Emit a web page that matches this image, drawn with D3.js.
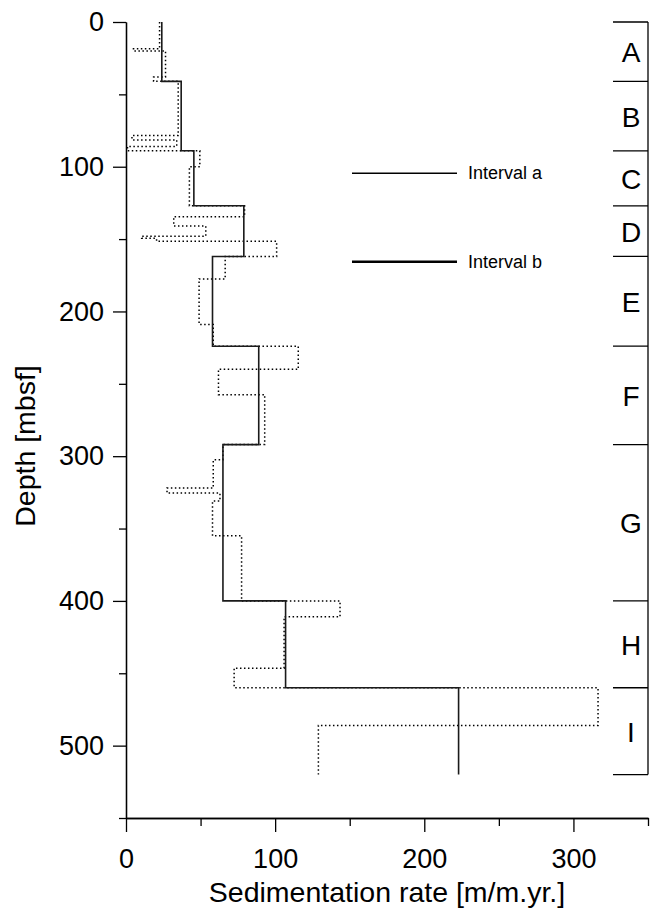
<!DOCTYPE html>
<html>
<head>
<meta charset="utf-8">
<script src="https://cdn.jsdelivr.net/npm/d3@7"></script>
<style>
  body { margin: 0; background: #fff; }
  svg { display: block; font-family: "Liberation Sans", Arial, sans-serif; }
</style>
</head>
<body>
<svg width="653" height="908"></svg>
<script>
// zones (depth boundaries in mbsf)
const zoneNames = ["A", "B", "C", "D", "E", "F", "G", "H", "I"];
const zoneBounds = [0, 41, 89, 127, 162, 224, 292, 400, 460, 520];

// interval a: one rate per zone
const rateA = [24, 37, 45.5, 79, 58, 89, 65, 107, 223];

// interval b: finer steps
const boundsB = [0, 18.5, 20, 38, 41, 78.5, 81.5, 86, 89, 100, 127, 134.5, 141, 148, 149.5, 151.5,
  162, 177.5, 209, 224, 240, 257.5, 292, 302.5, 322, 325.5, 331, 355, 400, 411, 446.5, 460, 486, 520];
const rateB = [22.5, 5, 26.5, 18.5, 35, 4, 34, 1, 49.5, 42.5, 79.5, 32, 53.5, 10.5, 20.5, 101,
  66.5, 49, 58.5, 115.5, 62, 93, 65, 58.5, 27.5, 63, 58, 77.5, 143.5, 106, 72.5, 316.5, 129];

const xMajor = [0, 100, 200, 300];
const xMinor = [50, 150, 250, 350];
const yMajor = [0, 100, 200, 300, 400, 500];
const yMinor = [50, 150, 250, 350, 450, 550];

const svg = d3.select("svg");
const x = d3.scaleLinear([0, 350], [126, 648]);
const y = d3.scaleLinear([0, 550], [22, 818]);

function steps(bounds, rates) {
  const pts = [];
  rates.forEach((r, i) => { pts.push([r, bounds[i]]); pts.push([r, bounds[i + 1]]); });
  return pts;
}
const line = d3.line().x(d => x(d[0])).y(d => y(d[1]));

// axes
function styleAxis(g) {
  g.attr("font-family", null).attr("font-size", null);
  g.selectAll("path, line").attr("stroke", "#000").attr("stroke-width", 1.3);
  g.selectAll("text").attr("fill", "#000").style("font-size", "27px");
}
svg.append("g").attr("transform", "translate(126,0)")
  .call(d3.axisLeft(y).tickValues(yMajor).tickSize(13).tickPadding(9).tickSizeOuter(0))
  .call(styleAxis);
svg.append("g").attr("transform", "translate(126,0)")
  .call(d3.axisLeft(y).tickValues(yMinor).tickSize(7).tickFormat("").tickSizeOuter(0))
  .call(styleAxis);
svg.append("g").attr("transform", "translate(0,818)")
  .call(d3.axisBottom(x).tickValues(xMajor).tickSize(14).tickPadding(17).tickSizeOuter(0))
  .call(styleAxis);
svg.append("g").attr("transform", "translate(0,818)")
  .call(d3.axisBottom(x).tickValues(xMinor).tickSize(8).tickFormat("").tickSizeOuter(0))
  .call(styleAxis);

svg.append("text")
  .attr("x", 387).attr("y", 902)
  .attr("text-anchor", "middle")
  .style("font-size", "28.5px")
  .text("Sedimentation rate [m/m.yr.]");
svg.append("text")
  .attr("transform", "translate(35,446) rotate(-90)")
  .attr("text-anchor", "middle")
  .style("font-size", "28.5px")
  .text("Depth [mbsf]");

// interval b (dotted)
svg.append("path")
  .datum(steps(boundsB, rateB))
  .attr("d", line)
  .attr("fill", "none")
  .attr("stroke", "#000")
  .attr("stroke-width", 1.5)
  .attr("stroke-dasharray", "1.5,2.5");

// interval a (solid)
svg.append("path")
  .datum(steps(zoneBounds, rateA))
  .attr("d", line)
  .attr("fill", "none")
  .attr("stroke", "#1a1a1a")
  .attr("stroke-width", 1.6);

// zone column
const zx0 = 613, zx1 = x(350);
svg.append("line")
  .attr("x1", zx1).attr("x2", zx1)
  .attr("y1", y(zoneBounds[0])).attr("y2", y(zoneBounds[zoneBounds.length - 1]))
  .attr("stroke", "#000").attr("stroke-width", 1.3);
svg.selectAll(".zb").data(zoneBounds).enter().append("line")
  .attr("x1", zx0).attr("x2", zx1)
  .attr("y1", d => y(d)).attr("y2", d => y(d))
  .attr("stroke", "#000").attr("stroke-width", 1.3);
svg.selectAll(".zl").data(zoneNames).enter().append("text")
  .attr("x", 631)
  .attr("y", (d, i) => (y(zoneBounds[i]) + y(zoneBounds[i + 1])) / 2 + 1)
  .attr("text-anchor", "middle")
  .attr("dominant-baseline", "central")
  .style("font-size", "28px")
  .text(d => d);

// legend
const legend = [
  {label: "Interval a", y: 173.3, w: 1.5},
  {label: "Interval b", y: 261.7, w: 2.5}
];
legend.forEach(l => {
  svg.append("line")
    .attr("x1", 352).attr("x2", 457)
    .attr("y1", l.y).attr("y2", l.y)
    .attr("stroke", "#000").attr("stroke-width", l.w);
  svg.append("text")
    .attr("x", 468).attr("y", l.y)
    .attr("dominant-baseline", "central")
    .style("font-size", "18px")
    .text(l.label);
});
</script>
</body>
</html>
